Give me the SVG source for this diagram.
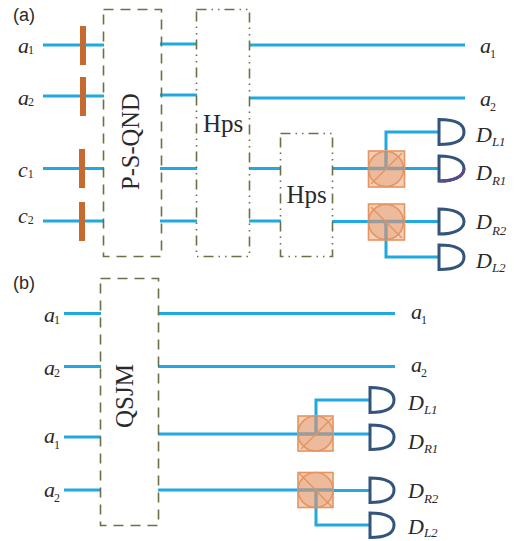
<svg xmlns="http://www.w3.org/2000/svg" width="516" height="541" viewBox="0 0 516 541">
<defs>
<style>
.w{stroke:#1fa9e0;stroke-width:3;fill:none}
.b{fill:#c66a2f}
.box{fill:none;stroke:#6c7048;stroke-width:1.6;stroke-dasharray:10 7}
.box2{fill:none;stroke:#6c7048;stroke-width:1.6;stroke-dasharray:10 5 1.5 5 1.5 5}
.d{fill:#fff;stroke:#33557c;stroke-width:3}
.t{font-family:"Liberation Serif",serif;fill:#2a2a2a}
.i{font-family:"Liberation Serif",serif;font-style:italic;font-size:22px;fill:#2a2a2a}
.s{font-size:12px;font-style:normal}
.si{font-size:13px;font-style:italic}
.l{font-family:"Liberation Sans",sans-serif;font-size:18px;fill:#2a2a2a}
.sq{fill:#f3cfb6;stroke:#e59463;stroke-width:1.6}
.ci{fill:#edbb9b;stroke:#e59463;stroke-width:1.6}
.di{stroke:#e59463;stroke-width:1.4;fill:none}
.g{stroke:#9b9b9b;stroke-width:3.4;fill:none}
</style>
</defs>
<g id="connectors">
<path class="w" d="M43 45H104M43 96H104M43 168.500H104M43 221H104"/>
<path class="w" d="M160 44H197M160 95H197M160 168.500H197M160 221H197"/>
<path class="w" d="M249 45H465M249 98H465M249 168.500H281M249 221H281"/>
<path class="w" d="M332 168.500H439M332 221.500H439"/>
<path class="w" d="M386 150V132H439M386 240V257H439"/>
<path class="w" d="M64 313.500H101M64 366.500H101M64 437H101M64 490H101"/>
<path class="w" d="M158 313.500H395M158 366.500H395M158 434H298M158 490H298"/>
<path class="w" d="M333 434H370M333 490.500H370"/>
<path class="w" d="M316 416V400H370M316 508V525H370"/>
</g>
<g id="labels-a">
<text class="l" x="13" y="21">(a)</text>
<text class="i" x="18" y="53">a<tspan class="s" dx="-1" dy="1">1</tspan></text>
<text class="i" x="18" y="105">a<tspan class="s" dx="-1" dy="1">2</tspan></text>
<text class="i" x="18" y="177">c<tspan class="s" dy="1">1</tspan></text>
<text class="i" x="18" y="223">c<tspan class="s" dy="1">2</tspan></text>
<text class="i" x="480" y="53">a<tspan class="s" dx="-1" dy="5">1</tspan></text>
<text class="i" x="480" y="106">a<tspan class="s" dx="-1" dy="5">2</tspan></text>
</g>
<g id="pbs-bars">
<rect class="b" x="80" y="26" width="6" height="39"/>
<rect class="b" x="80" y="77" width="6" height="39"/>
<rect class="b" x="79" y="149" width="6" height="39"/>
<rect class="b" x="79" y="202" width="6" height="39"/>
</g>
<g id="p-s-qnd">
<rect class="box" x="103.500" y="9.500" width="58" height="247"/>
<text class="t" font-size="24.500" transform="translate(139 190) rotate(-90)">P-S-QND</text>
</g>
<g id="hps-1">
<rect class="box2" x="196.500" y="9.500" width="53" height="247"/>
<text class="t" font-size="25" x="203" y="132">Hps</text>
</g>
<g id="hps-2">
<rect class="box2" x="280.500" y="133.500" width="52" height="123"/>
<text class="t" font-size="25" x="286.500" y="203">Hps</text>
</g>
<g id="bs-a1">
<rect class="sq" x="368.500" y="151" width="36" height="36"/>
<circle class="ci" cx="386" cy="169" r="17.500"/>
<path class="g" d="M368 168.500H404M386 151V168.500"/>
<path class="di" d="M371 184L402 153"/>
</g>
<g id="bs-a2">
<rect class="sq" x="368.500" y="204" width="36" height="36"/>
<circle class="ci" cx="386" cy="222" r="17.500"/>
<path class="g" d="M368 221.500H404M386 221.500V240"/>
<path class="di" d="M371 207L402 238"/>
</g>
<g id="det-dl1"><path class="d" d="M439 119.500C455 119.500 464 124 464 132C464 140 455 144.500 439 144.500Z"/>
<text class="i" x="476" y="142" font-size="22">D<tspan class="si" dy="4">L1</tspan></text></g>
<g id="det-dr1"><path class="d" d="M439 156C455 156 464 161 464 168.500C464 176 455 181 439 181Z"/>
<path d="M439 181C455 181 464 176 464 168.500" fill="none" stroke="#5a4a8c" stroke-width="3"/>
<text class="i" x="476" y="180" font-size="22">D<tspan class="si" dy="5">R1</tspan></text></g>
<g id="det-dr2"><path class="d" d="M439 209C455 209 464 214 464 221.500C464 229 455 234 439 234Z"/>
<text class="i" x="476" y="229" font-size="22">D<tspan class="si" dy="6">R2</tspan></text></g>
<g id="det-dl2"><path class="d" d="M439 245C455 245 464 249 464 257C464 265 455 269.500 439 269.500Z"/>
<text class="i" x="476" y="268" font-size="22">D<tspan class="si" dy="4">L2</tspan></text></g>
<g id="labels-b">
<text class="l" x="13" y="289">(b)</text>
<text class="i" x="44" y="322">a<tspan class="s" dx="-1" dy="2">1</tspan></text>
<text class="i" x="44" y="375">a<tspan class="s" dx="-1" dy="2">2</tspan></text>
<text class="i" x="44" y="443">a<tspan class="s" dx="-1" dy="6">1</tspan></text>
<text class="i" x="44" y="497">a<tspan class="s" dx="-1" dy="5">2</tspan></text>
<text class="i" x="411" y="319">a<tspan class="s" dx="-1" dy="5">1</tspan></text>
<text class="i" x="411" y="372">a<tspan class="s" dx="-1" dy="5">2</tspan></text>
</g>
<g id="qsjm">
<rect class="box" x="100.500" y="278.500" width="58" height="247"/>
<text class="t" font-size="25" transform="translate(133 428) rotate(-90)">QSJM</text>
</g>
<g id="bs-b1">
<rect class="sq" x="298" y="416" width="35" height="35"/>
<circle class="ci" cx="315.500" cy="433.500" r="17.500"/>
<path class="g" d="M298 434H333M316 416V434"/>
<path class="di" d="M301 449L332 418"/>
</g>
<g id="bs-b2">
<rect class="sq" x="298" y="472.500" width="35" height="35"/>
<circle class="ci" cx="315.500" cy="490" r="17.500"/>
<path class="g" d="M298 490H333M316 490V508"/>
<path class="di" d="M299 473L332 507"/>
</g>
<g id="det-b-dl1"><path class="d" d="M370 387.500C386 387.500 394 392 394 400C394 408 386 412.500 370 412.500Z"/>
<text class="i" x="408" y="410" font-size="22">D<tspan class="si" dy="4">L1</tspan></text></g>
<g id="det-b-dr1"><path class="d" d="M370 425C386 425 394 429 394 437C394 445 386 449.500 370 449.500Z"/>
<text class="i" x="408" y="449" font-size="22">D<tspan class="si" dy="4">R1</tspan></text></g>
<g id="det-b-dr2"><path class="d" d="M370 478C386 478 394 482 394 490C394 498 386 502.500 370 502.500Z"/>
<text class="i" x="408" y="498" font-size="22">D<tspan class="si" dy="5">R2</tspan></text></g>
<g id="det-b-dl2"><path class="d" d="M370 513C386 513 394 517 394 525C394 533 386 537.500 370 537.500Z"/>
<text class="i" x="408" y="534" font-size="22">D<tspan class="si" dy="3">L2</tspan></text></g>
</svg>
